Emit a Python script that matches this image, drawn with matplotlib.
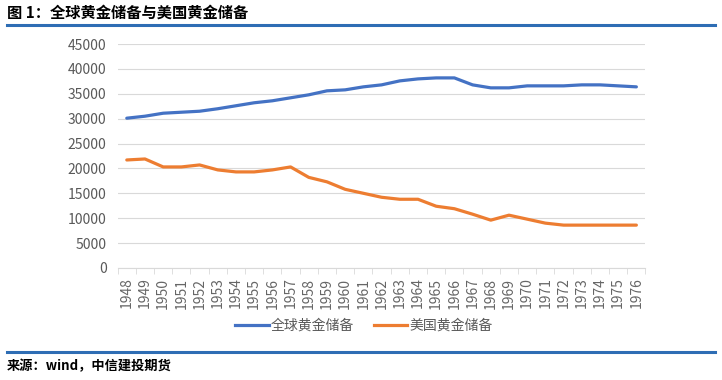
import numpy as np
import matplotlib.pyplot as plt
from matplotlib.lines import Line2D

plt.rcParams['font.family'] = ['Noto Sans CJK SC', 'DejaVu Sans']

years = list(range(1948, 1977))
world_gold = [30100, 30500, 31100, 31300, 31500, 32000, 32600, 33200, 33600, 34200,
              34800, 35600, 35800, 36400, 36800, 37600, 38000, 38200, 38200, 36800,
              36200, 36200, 36600, 36600, 36600, 36800, 36800, 36600, 36400]
us_gold = [21700, 21900, 20300, 20300, 20700, 19700, 19300, 19300, 19700, 20300,
           18200, 17300, 15800, 15000, 14200, 13800, 13800, 12400, 11900, 10800,
           9600, 10600, 9800, 9000, 8600, 8600, 8600, 8600, 8600]
labels = ['全球黄金储备', '美国黄金储备']

fig = plt.figure(figsize=(7.22, 3.80), dpi=100)
ax = fig.add_axes([0.163, 0.295, 0.731, 0.589])

x = np.arange(len(years))
ax.plot(x, world_gold, color='#4472C4', lw=2.3, solid_capstyle='round')
ax.plot(x, us_gold, color='#ED7D31', lw=2.3, solid_capstyle='round')

ax.set_xlim(-0.5, len(years) - 0.5)
ax.set_ylim(0, 45000)
ax.set_yticks(np.arange(0, 45001, 5000))
ax.yaxis.grid(True, color='#D9D9D9', lw=0.8)
ax.set_axisbelow(True)
for s in ['top', 'right', 'left']:
    ax.spines[s].set_visible(False)
ax.spines['bottom'].set_color('#D9D9D9')
ax.tick_params(axis='y', length=0, labelsize=10, colors='#595959', pad=8)

ax.set_xticks(x)
ax.set_xticklabels([str(y) for y in years], rotation=90, fontsize=10, color='#666666',
                   fontweight='light')
ax.set_xticks(np.arange(-0.5, len(years), 1), minor=True)
ax.tick_params(axis='x', which='major', length=0, pad=7)
ax.tick_params(axis='x', which='minor', length=4, color='#D9D9D9')

handles = [Line2D([], [], color='#4472C4', lw=2.3), Line2D([], [], color='#ED7D31', lw=2.3)]
leg = fig.legend(handles, labels, loc='center', bbox_to_anchor=(0.504, 0.142), ncol=2,
                 frameon=False, fontsize=10, handlelength=2.4, handletextpad=0.15,
                 columnspacing=1.4)
for t in leg.get_texts():
    t.set_color('#595959')

fig.text(0.01, 0.968, '图 1：全球黄金储备与美国黄金储备', fontsize=11, fontweight='heavy',
         va='center', ha='left', color='black')
fig.add_artist(Line2D([0.01, 0.99], [0.933, 0.933], color='#2E6DB4', lw=2.2))
fig.add_artist(Line2D([0.01, 0.99], [0.074, 0.074], color='#2E6DB4', lw=2.2))
fig.text(0.01, 0.037, '来源：wind，中信建投期货', fontsize=9.5, fontweight='bold',
         style='italic', va='center', ha='left', color='black')

fig.savefig('out.png', dpi=100)
